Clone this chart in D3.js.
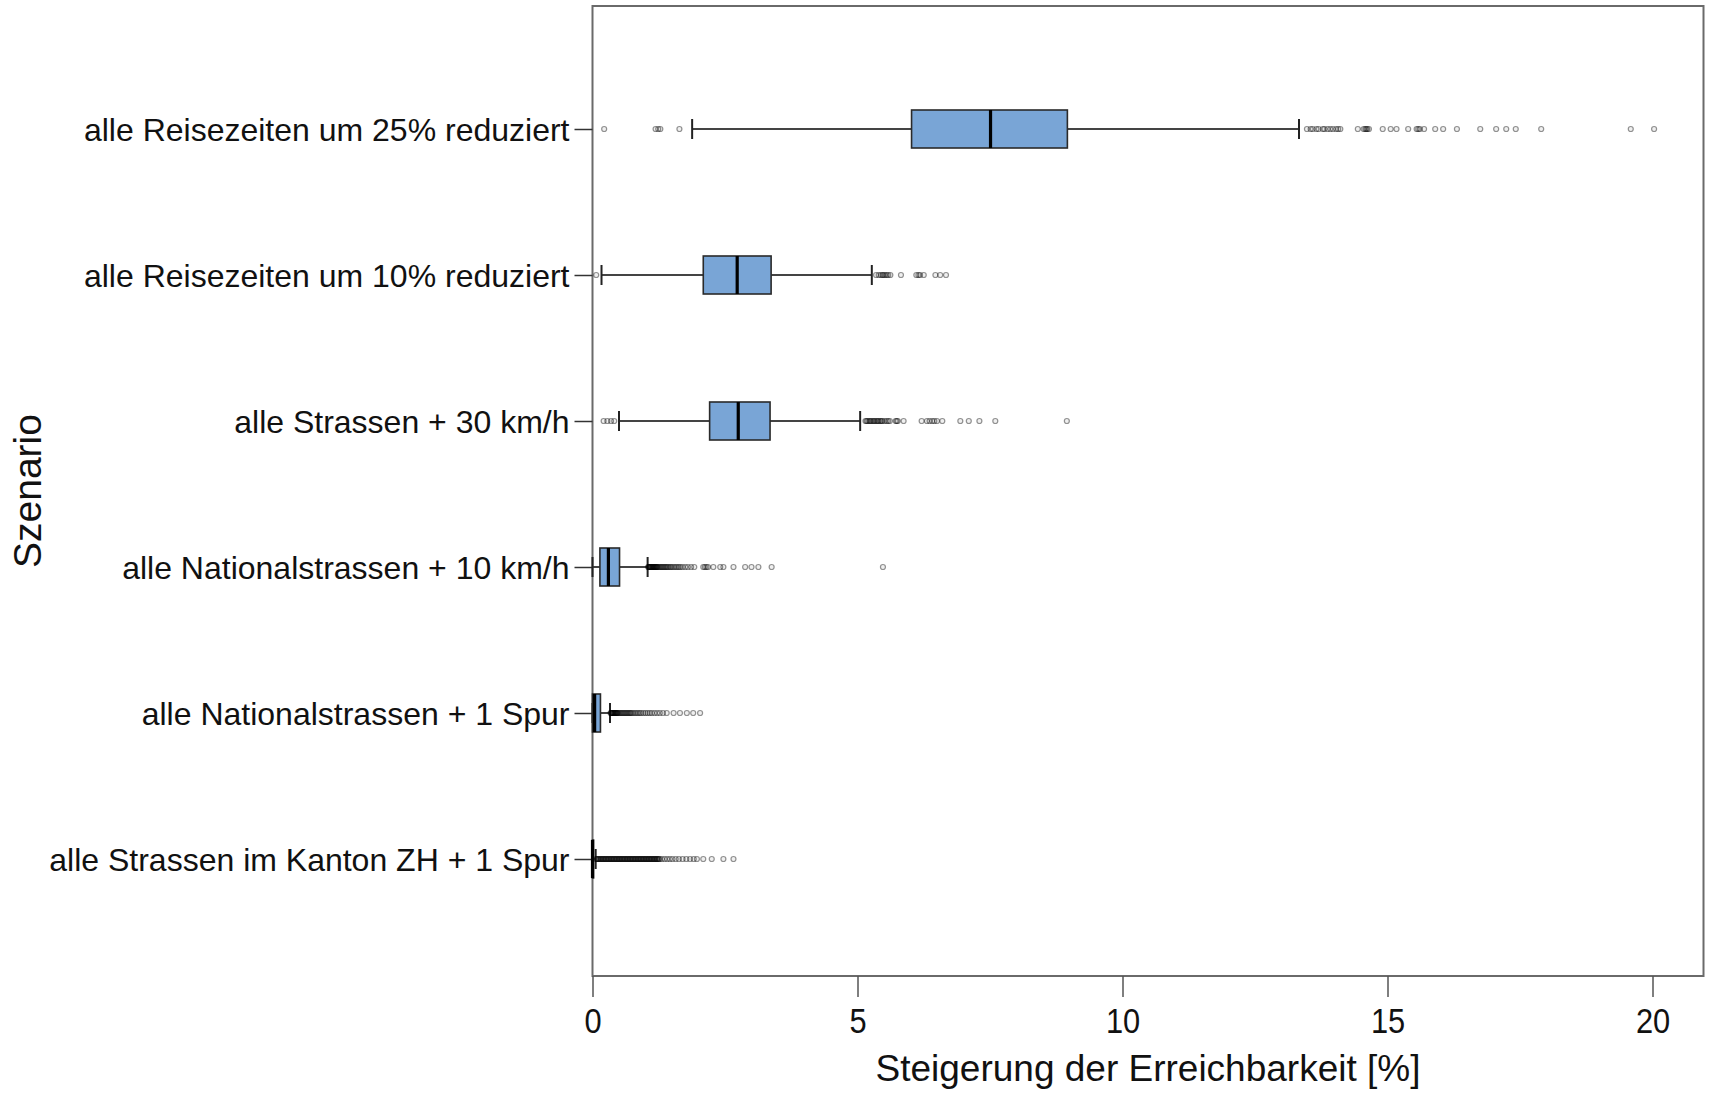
<!DOCTYPE html>
<html>
<head>
<meta charset="utf-8">
<script src="https://cdn.jsdelivr.net/npm/d3@7"></script>
<style>
  html, body { margin: 0; padding: 0; background: #fff; }
  svg { display: block; font-family: "Liberation Sans", Arial, sans-serif; }
</style>
</head>
<body>
<svg id="chart" width="1711" height="1093"></svg>
<script>
const categories = [
  "alle Reisezeiten um 25% reduziert",
  "alle Reisezeiten um 10% reduziert",
  "alle Strassen + 30 km/h",
  "alle Nationalstrassen + 10 km/h",
  "alle Nationalstrassen + 1 Spur",
  "alle Strassen im Kanton ZH + 1 Spur"
];
const whiskerLow  = [1.88, 0.17, 0.50, 0.00, 0.00, 0.00];
const q1          = [6.02, 2.09, 2.21, 0.14, 0.00, 0.00];
const median      = [7.51, 2.73, 2.75, 0.30, 0.04, 0.00];
const q3          = [8.96, 3.37, 3.35, 0.51, 0.15, 0.02];
const whiskerHigh = [13.33, 5.27, 5.05, 1.04, 0.33, 0.06];

const outliers25 = [0.22, 1.19, 1.24, 1.28, 1.64, 13.48, 13.55, 13.59, 13.66, 13.70, 13.78, 13.81,
  13.87, 13.92, 13.97, 14.03, 14.07, 14.11, 14.44, 14.55, 14.58, 14.60, 14.62, 14.65, 14.91, 15.06,
  15.17, 15.39, 15.55, 15.58, 15.61, 15.69, 15.90, 16.05, 16.31, 16.75, 17.05, 17.24, 17.42, 17.90,
  19.59, 20.03];
const outliers10 = [0.07, 5.35, 5.40, 5.44, 5.47, 5.49, 5.52, 5.55, 5.58, 5.62, 5.82, 6.11, 6.15,
  6.18, 6.25, 6.47, 6.56, 6.67];
const outliers30kmh = [0.21, 0.28, 0.35, 0.41, 5.15, 5.17, 5.19, 5.22, 5.24, 5.26, 5.29, 5.31, 5.33,
  5.36, 5.38, 5.40, 5.43, 5.45, 5.47, 5.51, 5.55, 5.58, 5.61, 5.72, 5.74, 5.76, 5.87, 6.21, 6.31,
  6.36, 6.41, 6.45, 6.50, 6.60, 6.94, 7.10, 7.30, 7.60, 8.95];
const outliersNat10 = [1.05, 1.06, 1.07, 1.08, 1.09, 1.10, 1.11, 1.12, 1.13, 1.14, 1.15, 1.16, 1.17,
  1.18, 1.19, 1.20, 1.21, 1.22, 1.23, 1.25, 1.27, 1.29, 1.31, 1.33, 1.35, 1.37, 1.39, 1.41, 1.43,
  1.46, 1.48, 1.51, 1.54, 1.57, 1.60, 1.63, 1.66, 1.70, 1.75, 1.80, 1.86, 1.92, 2.09, 2.12, 2.15,
  2.18, 2.28, 2.41, 2.47, 2.66, 2.88, 3.00, 3.13, 3.38, 5.48];
const outliersNatSpur = [0.34, 0.35, 0.36, 0.37, 0.38, 0.39, 0.40, 0.41, 0.42, 0.43, 0.44, 0.45,
  0.46, 0.47, 0.48, 0.50, 0.52, 0.54, 0.56, 0.58, 0.60, 0.62, 0.64, 0.66, 0.68, 0.70, 0.72, 0.74,
  0.77, 0.80, 0.83, 0.86, 0.89, 0.92, 0.96, 1.00, 1.04, 1.08, 1.12, 1.17, 1.22, 1.27, 1.33, 1.40,
  1.53, 1.65, 1.78, 1.90, 2.03];
const outliersZH = [0.07, 0.08, 0.10, 0.11, 0.13, 0.14, 0.16, 0.17, 0.19, 0.20, 0.22, 0.23, 0.25,
  0.26, 0.28, 0.29, 0.31, 0.32, 0.34, 0.35, 0.37, 0.38, 0.40, 0.41, 0.43, 0.44, 0.46, 0.47, 0.49,
  0.50, 0.52, 0.53, 0.55, 0.56, 0.58, 0.59, 0.61, 0.62, 0.64, 0.65, 0.67, 0.68, 0.70, 0.71, 0.73,
  0.74, 0.76, 0.77, 0.79, 0.80, 0.82, 0.83, 0.85, 0.86, 0.88, 0.89, 0.91, 0.92, 0.94, 0.95, 0.97,
  0.98, 1.00, 1.01, 1.03, 1.04, 1.06, 1.07, 1.09, 1.10, 1.12, 1.13, 1.15, 1.16, 1.18, 1.19, 1.21,
  1.22, 1.24, 1.25, 1.27, 1.31, 1.36, 1.41, 1.46, 1.51, 1.57, 1.63, 1.70, 1.77, 1.84, 1.91, 1.97,
  2.09, 2.25, 2.47, 2.66];
const outliers = [outliers25, outliers10, outliers30kmh, outliersNat10, outliersNatSpur, outliersZH];

const xTicks = [0, 5, 10, 15, 20];
const xTitle = "Steigerung der Erreichbarkeit [%]";
const yTitle = "Szenario";

const rows = categories.map((c, i) => ({
  cat: c, lo: whiskerLow[i], q1: q1[i], med: median[i], q3: q3[i], hi: whiskerHigh[i], out: outliers[i]
}));

const svg = d3.select("#chart");
const plot = { left: 592.5, right: 1703.5, top: 6, bottom: 976 };

const x = d3.scaleLinear().domain([0, 20]).range([plot.left, 1652.5]);
const y = d3.scalePoint().domain(categories).range([129, 859]);

const boxH = 38, capH = 20;

// frame
svg.append("rect")
  .attr("x", plot.left).attr("y", plot.top)
  .attr("width", plot.right - plot.left).attr("height", plot.bottom - plot.top)
  .attr("fill", "none").attr("stroke", "#6a6a6a").attr("stroke-width", 2);

// x axis
const xAxis = svg.append("g")
  .attr("transform", `translate(0,${plot.bottom})`)
  .call(d3.axisBottom(x).tickValues(xTicks).tickFormat(d3.format("d")).tickSize(21).tickPadding(11));
xAxis.select(".domain").remove();
xAxis.selectAll(".tick line").attr("stroke", "#555").attr("stroke-width", 1.5);
xAxis.selectAll(".tick text").attr("font-size", 35).attr("fill", "#111")
  .attr("font-family", "'Liberation Sans', Arial, sans-serif")
  .attr("transform", "scale(0.88,1)");

// y axis
const yAxis = svg.append("g")
  .attr("transform", `translate(${plot.left},0)`)
  .call(d3.axisLeft(y).tickSize(18).tickPadding(5));
yAxis.select(".domain").remove();
yAxis.selectAll(".tick line").attr("stroke", "#333").attr("stroke-width", 1.5);
yAxis.selectAll(".tick text").attr("font-size", 32).attr("fill", "#111").attr("dy", "0.36em")
  .attr("font-family", "'Liberation Sans', Arial, sans-serif");

// titles
svg.append("text")
  .attr("x", (plot.left + plot.right) / 2).attr("y", 1081)
  .attr("text-anchor", "middle").attr("font-size", 37).attr("fill", "#111")
  .text(xTitle);
svg.append("text")
  .attr("transform", `translate(41,491) rotate(-90)`)
  .attr("text-anchor", "middle").attr("font-size", 39).attr("fill", "#111")
  .text(yTitle);

// boxes
const g = svg.append("g");
const row = g.selectAll("g.row").data(rows).join("g").attr("class", "row");

// whiskers
row.append("line")
  .attr("x1", d => x(d.lo)).attr("x2", d => x(d.q1))
  .attr("y1", d => y(d.cat)).attr("y2", d => y(d.cat))
  .attr("stroke", "#444").attr("stroke-width", 2);
row.append("line")
  .attr("x1", d => x(d.q3)).attr("x2", d => x(d.hi))
  .attr("y1", d => y(d.cat)).attr("y2", d => y(d.cat))
  .attr("stroke", "#444").attr("stroke-width", 2);
// caps
row.append("line")
  .attr("x1", d => x(d.lo)).attr("x2", d => x(d.lo))
  .attr("y1", d => y(d.cat) - capH / 2).attr("y2", d => y(d.cat) + capH / 2)
  .attr("stroke", "#222").attr("stroke-width", 2);
row.append("line")
  .attr("x1", d => x(d.hi)).attr("x2", d => x(d.hi))
  .attr("y1", d => y(d.cat) - capH / 2).attr("y2", d => y(d.cat) + capH / 2)
  .attr("stroke", "#222").attr("stroke-width", 2);

// outliers
row.each(function(d) {
  d3.select(this).selectAll("circle").data(d.out).join("circle")
    .attr("cx", v => x(v)).attr("cy", y(d.cat)).attr("r", 2.5)
    .attr("fill", "#000").attr("fill-opacity", 0.06)
    .attr("stroke", "#000").attr("stroke-opacity", 0.42).attr("stroke-width", 1.2);
});

// box
row.append("rect")
  .attr("x", d => x(d.q1)).attr("y", d => y(d.cat) - boxH / 2)
  .attr("width", d => Math.max(1, x(d.q3) - x(d.q1))).attr("height", boxH)
  .attr("fill", "#79a5d6").attr("stroke", "#2a2a2a").attr("stroke-width", 1.6);
// median
row.append("line")
  .attr("x1", d => x(d.med)).attr("x2", d => x(d.med))
  .attr("y1", d => y(d.cat) - boxH / 2).attr("y2", d => y(d.cat) + boxH / 2)
  .attr("stroke", "#000").attr("stroke-width", 3.2);
</script>
</body>
</html>
